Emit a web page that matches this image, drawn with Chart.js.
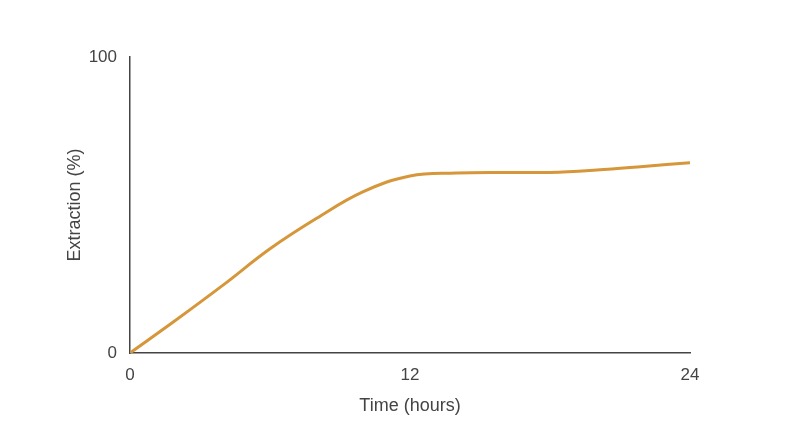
<!DOCTYPE html>
<html>
<head>
<meta charset="utf-8">
<script src="https://cdn.jsdelivr.net/npm/chart.js@4"></script>
<style>
  html, body { margin: 0; padding: 0; background: #fff; }
  #wrap { width: 800px; height: 447px; }
</style>
</head>
<body>
<div id="wrap"><canvas id="extracao"></canvas></div>
<script>
const hours = [0, 2, 4, 6, 8, 10, 12, 14, 16, 18, 20, 22, 24];
const extraction = [0, 11.3, 23, 35.2, 45.5, 54.5, 59.8, 60.8, 61, 61, 61.8, 63, 64.3];
const xTicks = [0, 12, 24];
const yTicks = [0, 100];

const fontFam = '"Liberation Sans", Arial, sans-serif';

const ctx = document.getElementById('extracao').getContext('2d');
const lineChart = new Chart(ctx, {
    type: 'line',
    data: {
        datasets: [{
            label: 'Extraction',
            data: hours.map((h, i) => ({ x: h, y: extraction[i] })),
            borderColor: '#d6963a',
            borderWidth: 3,
            pointRadius: 0,
            tension: 0.4,
            fill: false
        }]
    },
    options: {
        responsive: true,
        maintainAspectRatio: false,
        animation: false,
        layout: {
            padding: { top: 57, right: 110, left: 64, bottom: 30 }
        },
        plugins: {
            legend: { display: false },
            tooltip: { enabled: false }
        },
        scales: {
            x: {
                type: 'linear',
                min: 0,
                max: 24,
                afterBuildTicks: (scale) => { scale.ticks = xTicks.map(v => ({ value: v })); },
                afterFit: (scale) => { scale.height = 447 - 353 - 30; },
                grid: { display: false },
                border: { display: true, color: '#444', width: 1.5 },
                ticks: {
                    color: '#444',
                    padding: 4,
                    font: { family: fontFam, size: 17 },
                    maxRotation: 0
                },
                title: {
                    display: true,
                    text: 'Time (hours)',
                    color: '#444',
                    font: { family: fontFam, size: 18 },
                    padding: { top: 4, bottom: 0 }
                }
            },
            y: {
                min: 0,
                max: 100,
                afterBuildTicks: (scale) => { scale.ticks = yTicks.map(v => ({ value: v })); },
                afterFit: (scale) => { scale.width = 130 - 64; },
                grid: { display: false },
                border: { display: true, color: '#444', width: 1.5 },
                ticks: {
                    color: '#444',
                    padding: 5,
                    font: { family: fontFam, size: 17 }
                },
                title: {
                    display: true,
                    text: 'Extraction (%)',
                    color: '#444',
                    font: { family: fontFam, size: 18 },
                    padding: { top: 0, bottom: 0 }
                }
            }
        }
    }
});
</script>
</body>
</html>
